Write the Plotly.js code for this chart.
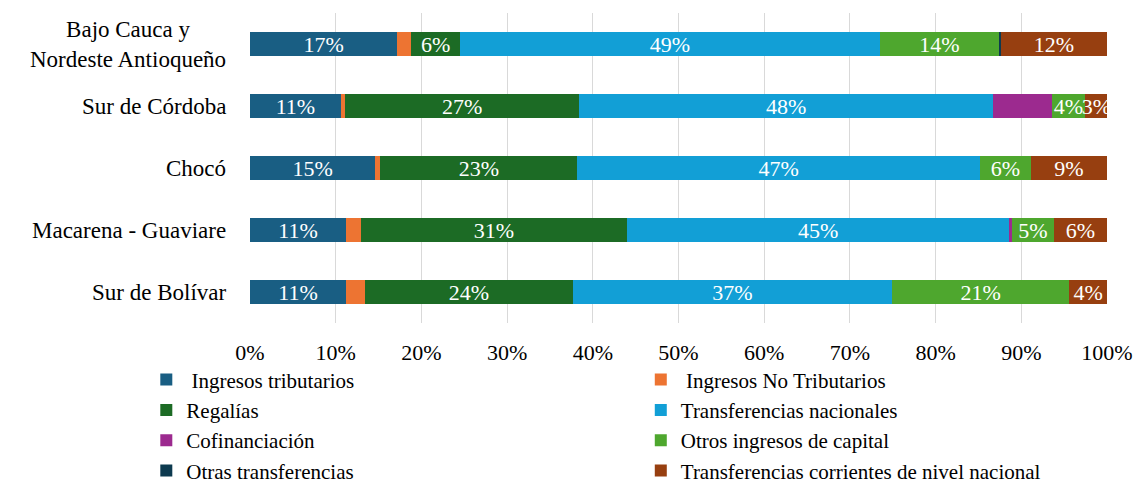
<!DOCTYPE html>
<html>
<head>
<meta charset="utf-8">
<script src="https://cdn.plot.ly/plotly-3.0.1.min.js"></script>
<style>html,body{margin:0;padding:0;background:#fff;}#chart{width:1143px;height:484px;}</style>
</head>
<body>
<div id="chart"></div>
<script>
// Categories (top to bottom)
const categories = ["Bajo Cauca y<br>Nordeste Antioqueño", "Sur de Córdoba", "Chocó", "Macarena - Guaviare", "Sur de Bolívar"];
const catKeys = ["Bajo Cauca", "Sur de Córdoba", "Chocó", "Macarena - Guaviare", "Sur de Bolívar"];

// Shares (%) per series
const ingresosTributarios   = [17.2, 10.6, 14.6, 11.2, 11.2];
const ingresosNoTributarios = [1.6, 0.5, 0.6, 1.7, 2.2];
const regalias              = [5.7, 27.3, 23.0, 31.1, 24.3];
const transferenciasNac     = [49.0, 48.3, 47.0, 44.6, 37.2];
const cofinanciacion        = [0, 6.9, 0, 0.3, 0];
const otrosIngresosCapital  = [13.9, 3.8, 5.9, 4.9, 20.7];
const otrasTransferencias   = [0.2, 0, 0, 0, 0];
const transfCorrientes      = [12.4, 2.7, 8.9, 6.2, 4.4];

const xTickVals = [0,10,20,30,40,50,60,70,80,90,100];

const series = [
  {name: " Ingresos tributarios", vals: ingresosTributarios, color: "#195e83", label: true, legend: "legend"},
  {name: " Ingresos No Tributarios", vals: ingresosNoTributarios, color: "#ed7432", label: false, legend: "legend2"},
  {name: "Regalías", vals: regalias, color: "#1c6b25", label: true, legend: "legend"},
  {name: "Transferencias nacionales", vals: transferenciasNac, color: "#129fd6", label: true, legend: "legend2"},
  {name: "Cofinanciación", vals: cofinanciacion, color: "#9c2a8f", label: false, legend: "legend"},
  {name: "Otros ingresos de capital", vals: otrosIngresosCapital, color: "#4ea72e", label: true, legend: "legend2"},
  {name: "Otras transferencias", vals: otrasTransferencias, color: "#0d3a4f", label: false, legend: "legend"},
  {name: "Transferencias corrientes de nivel nacional", vals: transfCorrientes, color: "#973f10", label: true, legend: "legend2"}
];

const traces = series.map((s, i) => ({
  type: "bar",
  orientation: "h",
  name: s.name,
  y: catKeys,
  x: s.vals,
  marker: {color: s.color, line: {width: 0}},
  text: s.label ? s.vals.map(v => v > 0 ? Math.round(v) + "%" : "") : s.vals.map(() => ""),
  textposition: "inside",
  insidetextanchor: "middle",
  constraintext: "none",
  textangle: 0,
  textfont: {color: "#ffffff", size: 22, family: "Liberation Serif"},
  hoverinfo: "x+name",
  legend: s.legend,
  legendgroup: "g" + i
}));

const annotations = catKeys.map((k, i) => ({
  xref: "paper", yref: "y",
  x: -0.026, y: k,
  text: categories[i],
  showarrow: false,
  xanchor: "right", yanchor: "middle",
  align: "center",
  font: {family: "Liberation Serif", size: 23, color: "#000"}
}));

const legendCommon = {
  orientation: "v",
  font: {family: "Liberation Serif", size: 21, color: "#000"},
  bgcolor: "rgba(0,0,0,0)",
  tracegroupgap: 5,
  yanchor: "top",
  y: -0.1175,
  itemwidth: 30,
  traceorder: "normal"
};

const layout = {
  width: 1143, height: 484,
  margin: {l: 250, r: 36, t: 13, b: 161, autoexpand: false},
  paper_bgcolor: "#fff", plot_bgcolor: "#fff",
  barmode: "stack",
  bargap: 0.61,
  showlegend: true,
  legend: Object.assign({}, legendCommon, {x: -0.121, xanchor: "left"}),
  legend2: Object.assign({}, legendCommon, {x: 0.456, xanchor: "left"}),
  xaxis: {
    range: [0, 100],
    tickvals: xTickVals,
    ticktext: xTickVals.map(v => v + "%"),
    showgrid: true, gridcolor: "#d9d9d9", gridwidth: 1,
    zeroline: false, showline: false,
    ticks: "",
    ticklabelstandoff: 14,
    tickfont: {family: "Liberation Serif", size: 22, color: "#000"},
    fixedrange: true
  },
  yaxis: {
    categoryorder: "array",
    categoryarray: catKeys,
    autorange: "reversed",
    showticklabels: false,
    showgrid: false, zeroline: false, showline: false, ticks: "",
    fixedrange: true
  },
  annotations: annotations
};

Plotly.newPlot("chart", traces, layout, {displayModeBar: false, staticPlot: true});
</script>
</body>
</html>
